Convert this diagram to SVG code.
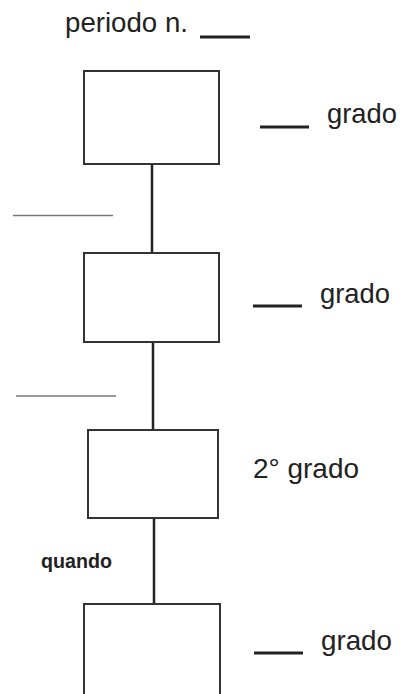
<svg xmlns="http://www.w3.org/2000/svg" width="403" height="694" viewBox="0 0 403 694">
<style>
.box{fill:#fff;stroke:#333;stroke-width:2}
.conn{stroke:#222;stroke-width:2.5;fill:none}
.blank{stroke:#222;stroke-width:3}
.thin{stroke:#777;stroke-width:1.5}
.t{font-family:"Liberation Sans",Arial,sans-serif;font-size:28px;fill:#222}
.q{font-family:"Liberation Sans",Arial,sans-serif;font-size:20px;font-weight:bold;fill:#222}
</style>
<rect width="403" height="694" fill="#fff"/>
<g id="title">
<text class="t" x="65" y="32" font-size="26" textLength="123" lengthAdjust="spacingAndGlyphs">periodo n.</text>
<line class="blank" x1="200" y1="37" x2="250" y2="37"/>
</g>
<g id="connectors">
<line class="conn" x1="152" y1="164" x2="152" y2="253"/>
<line class="conn" x1="153" y1="342" x2="153" y2="430"/>
<line class="conn" x1="154" y1="518" x2="154" y2="604"/>
<line class="thin" x1="13" y1="215.5" x2="113" y2="215.5"/>
<line class="thin" x1="16" y1="396" x2="116" y2="396"/>
</g>
<g id="node1">
<rect class="box" x="84" y="71" width="135" height="93"/>
<line class="blank" x1="260" y1="127" x2="309" y2="127"/>
<text class="t" x="327" y="123" textLength="70" lengthAdjust="spacingAndGlyphs">grado</text>
</g>
<g id="node2">
<rect class="box" x="84" y="253" width="135" height="89"/>
<line class="blank" x1="253" y1="306" x2="302" y2="306"/>
<text class="t" x="320" y="303" textLength="70" lengthAdjust="spacingAndGlyphs">grado</text>
</g>
<g id="node3">
<rect class="box" x="88" y="430" width="130" height="88"/>
<text class="t" x="253" y="478" font-size="30" textLength="106" lengthAdjust="spacingAndGlyphs">2° grado</text>
</g>
<g id="label-quando">
<text class="q" x="41" y="568" textLength="71" lengthAdjust="spacingAndGlyphs">quando</text>
</g>
<g id="node4">
<rect class="box" x="84" y="604" width="136" height="100"/>
<line class="blank" x1="254" y1="653" x2="303" y2="653"/>
<text class="t" x="321" y="650" textLength="71" lengthAdjust="spacingAndGlyphs">grado</text>
</g>
</svg>
